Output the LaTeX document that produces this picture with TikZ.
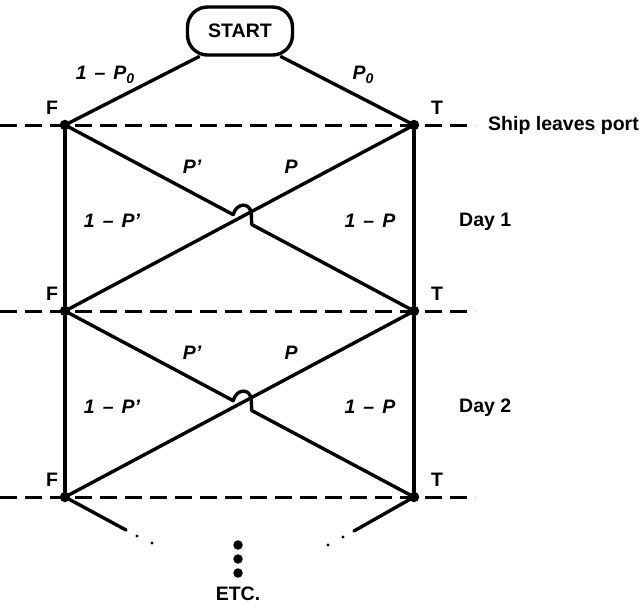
\documentclass[tikz,border=0pt]{standalone}
\usepackage{fontspec}
\setmainfont{Liberation Sans}
\usetikzlibrary{calc}
\newcommand{\sub}[1]{\raisebox{-3.5pt}{\fontsize{14}{14}\selectfont #1}}
\newcommand{\mn}{\hspace{8pt}–\hspace{8pt}}
\begin{document}
\begin{tikzpicture}[x=1pt,y=-1pt,
  wire/.style={line width=3.4pt, line cap=round, line join=round},
  guide/.style={line width=3pt, dash pattern=on 17pt off 8pt},
  state/.style={circle, fill, inner sep=0pt, minimum size=10.5pt},
  tinydot/.style={circle, fill, inner sep=0pt, minimum size=3.4pt},
  bigdot/.style={circle, fill, inner sep=0pt, minimum size=9.5pt},
  lab/.style={font=\bfseries\fontsize{19.5}{19.5}\selectfont, inner sep=0pt},
  prob/.style={font=\bfseries\itshape\fontsize{19.5}{19.5}\selectfont, inner sep=0pt},
]
\useasboundingbox (0,0) rectangle (642,608);

% start box
\node[draw, line width=3.4pt, rounded corners=20pt, minimum width=105pt,
      minimum height=48pt, lab] (start) at (240,31) {START};

% horizontal day boundaries
\foreach \r/\y in {0/125,1/311,2/497} {
  \coordinate (gl\r) at (0,\y);
  \coordinate (gr\r) at (475,\y);
  \draw[guide] (gl\r) -- (gr\r);
}

% states F (false) and T (true) on each boundary
\foreach \r/\y in {0/125,1/311,2/497} {
  \node[state] (F\r) at (65,\y) {};
  \node[state] (T\r) at (414,\y) {};
  \node[lab] (fl\r) at (52,\y-17) {F};
  \node[lab] (tl\r) at (437,\y-17) {T};
}

% staying in the same state
\draw[wire] (F0) -- (F1) -- (F2);
\draw[wire] (T0) -- (T1) -- (T2);

% switching between states, with a hop where the paths cross
\foreach \a/\b in {0/1,1/2} {
  \draw[wire] (F\b) -- (T\a);
  \coordinate (ha\a) at ($(F\a)!0.482!(T\b)$);
  \coordinate (hb\a) at ($(F\a)!0.535!(T\b)$);
  \draw[wire] (F\a) -- (ha\a)
     .. controls ($(ha\a)+(3,-12)$) and ($(ha\a)+(17,-13)$) .. ($(ha\a)+(18,-1)$)
     -- (hb\a) -- (T\b);
}

% branches out of the start box
\draw[wire] (start.212) -- (F0);
\draw[wire] (start.328) -- (T0);
\node[prob] (p0a) at (105,75) {1\mn P\sub{0}};
\node[prob] (p0b) at (363,75) {P\sub{0}};
\node[lab, anchor=west] (port) at (488,125) {Ship leaves port};

% transition probabilities for each day
\foreach \d/\y in {1/125,2/311} {
  \node[prob] (pp\d) at (192,\y+42) {P’};
  \node[prob] (pq\d) at (291,\y+42) {P};
  \node[prob] (qp\d) at (112,\y+96) {1\mn P’};
  \node[prob] (qq\d) at (370,\y+96) {1\mn P};
  \node[lab, anchor=west] (day\d) at (459,\y+97) {Day \d};
}

% continuation below the last boundary
\coordinate (fe) at (126,530);
\coordinate (te) at (354,531);
\draw[wire] (F2) -- (fe);
\draw[wire] (T2) -- (te);
\node[tinydot] (fd1) at (137,536) {};
\node[tinydot] (fd2) at (152,543) {};
\node[tinydot] (td1) at (343,537) {};
\node[tinydot] (td2) at (328,545) {};
\node[bigdot] (e1) at (238,545) {};
\node[bigdot] (e2) at (238,559) {};
\node[bigdot] (e3) at (238,573) {};
\node[lab] (etc) at (238,594) {ETC.};
\end{tikzpicture}
\end{document}
